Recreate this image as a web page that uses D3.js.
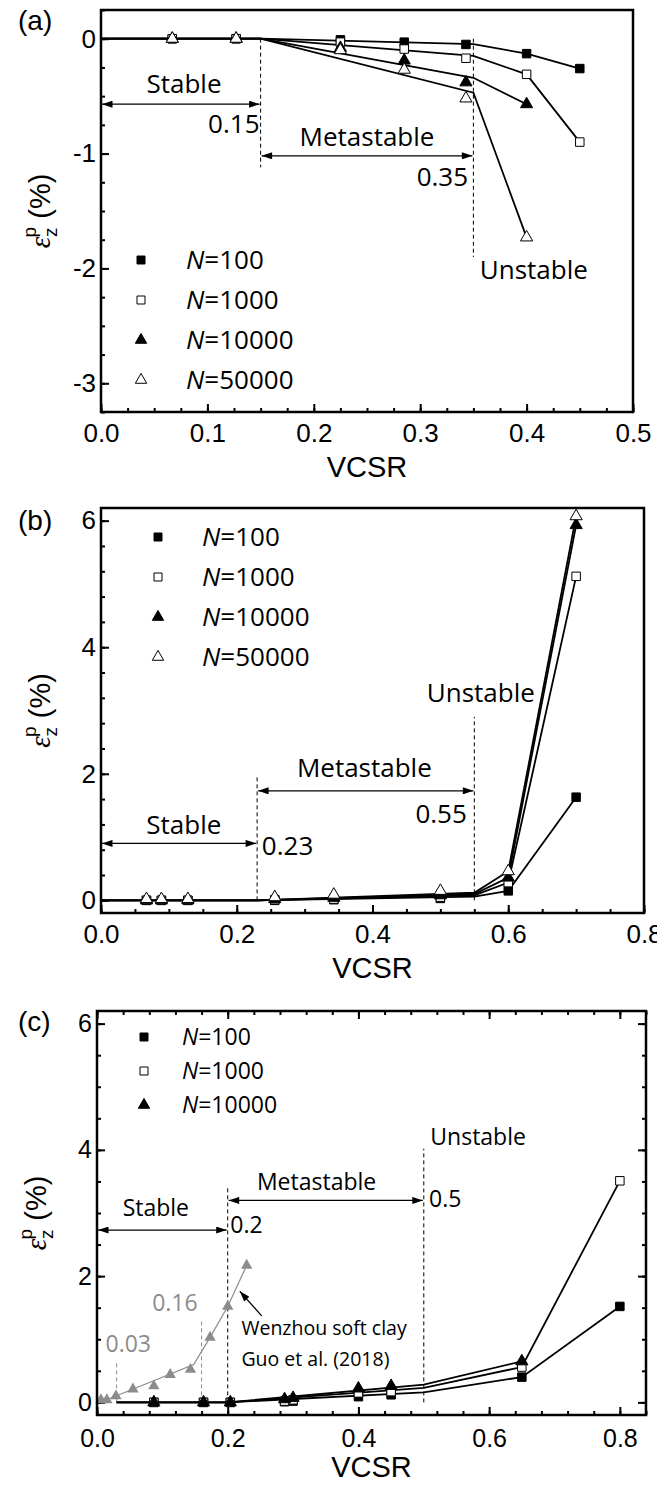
<!DOCTYPE html>
<html>
<head>
<meta charset="utf-8">
<script src="https://cdn.jsdelivr.net/npm/d3@7"></script>
<style>
body { margin: 0; background: #fff; }
svg { display: block; }
</style>
</head>
<body>
<div id="chart"></div>
<script>
// ---- panel (a) ----
var aXTicks = [0, 0.1, 0.2, 0.3, 0.4, 0.5];
var aYTicks = [-3, -2, -1, 0];
var aMarkX = [0.067, 0.127, 0.225, 0.285, 0.343, 0.4, 0.45];
var aN100 = [0, 0, -0.01, -0.03, -0.05, -0.13, -0.26];
var aN1000 = [0, 0, -0.03, -0.09, -0.17, -0.31, -0.90];
var aN10000 = [0, 0, -0.08, -0.19, -0.38, -0.57];
var aN50000 = [0, 0, -0.10, -0.27, -0.52, -1.73];
var aLineX = [0, 0.15, 0.35, 0.4, 0.45];
var aLine100 = [0, 0, -0.047, -0.13, -0.26];
var aLine1000 = [0, 0, -0.15, -0.31, -0.90];
var aLine10000 = [0, 0, -0.34, -0.57];
var aLine50000 = [0, 0, -0.47, -1.73];

// ---- panel (b) ----
var bXTicks = [0, 0.2, 0.4, 0.6, 0.8];
var bYTicks = [0, 2, 4, 6];
var bMarkX = [0.067, 0.089, 0.128, 0.256, 0.343, 0.5, 0.6, 0.7];
var bN100 = [0, 0, 0, 0, 0.01, 0.03, 0.15, 1.63];
var bN1000 = [0, 0, 0, 0.01, 0.02, 0.05, 0.28, 5.12];
var bN10000 = [0, 0, 0, 0.02, 0.04, 0.08, 0.36, 5.93];
var bN50000 = [0.02, 0.02, 0.02, 0.05, 0.09, 0.15, 0.46, 6.07];
var bLineX = [0, 0.23, 0.55, 0.6, 0.7];
var bLine100 = [0, 0, 0.06, 0.15, 1.63];
var bLine1000 = [0, 0, 0.08, 0.28, 5.12];
var bLine10000 = [0, 0, 0.10, 0.36, 5.93];
var bLine50000 = [0, 0, 0.12, 0.46, 6.07];

// ---- panel (c) ----
var cXTicks = [0, 0.2, 0.4, 0.6, 0.8];
var cYTicks = [0, 2, 4, 6];
var cMarkX = [0.087, 0.163, 0.204, 0.287, 0.3, 0.4, 0.45, 0.65, 0.8];
var cN100 = [0, 0, 0, 0.01, 0.02, 0.09, 0.12, 0.40, 1.52];
var cN1000 = [0, 0, 0, 0.02, 0.04, 0.15, 0.17, 0.56, 3.51];
var cN10000 = [0, 0, 0, 0.05, 0.07, 0.22, 0.26, 0.65];
var cLineX = [0.03, 0.2, 0.5, 0.65, 0.8];
var cLine100 = [0, 0, 0.16, 0.40, 1.52];
var cLine1000 = [0, 0, 0.23, 0.56, 3.51];
var cLine10000 = [0, 0, 0.28, 0.65];
// Wenzhou soft clay, Guo et al. (2018)
var clayX = [0.006, 0.015, 0.029, 0.055, 0.087, 0.112, 0.143, 0.173, 0.2, 0.229];
var clayY = [0.04, 0.04, 0.10, 0.21, 0.26, 0.44, 0.52, 1.03, 1.52, 2.17];
var clayLineX = [0.006, 0.015, 0.029, 0.148, 0.173, 0.2, 0.229];
var clayLineY = [0.04, 0.04, 0.10, 0.60, 1.03, 1.52, 2.17];

var legendN = ["100", "1000", "10000", "50000"];

var tickFont = "'Liberation Sans', Arial, sans-serif";
var noteFont = "'Open Sans', sans-serif";
var grey = "#8c8c8c";

var svg = d3.select("#chart").append("svg")
    .attr("width", 657)
    .attr("height", 1485);

var defs = svg.append("defs");
defs.append("marker")
    .attr("id", "arrow0")
    .attr("viewBox", "0 0 12 8")
    .attr("markerWidth", 12)
    .attr("markerHeight", 7)
    .attr("markerUnits", "userSpaceOnUse")
    .attr("refX", 12)
    .attr("refY", 4)
    .attr("orient", "auto-start-reverse")
    .append("path")
    .attr("d", "M0,0L12,4L0,8Z")
    .attr("fill", "#000");

var shapes = [
    { type: d3.symbolSquare, filled: true },
    { type: d3.symbolSquare, filled: false },
    { type: d3.symbolTriangle, filled: true },
    { type: d3.symbolTriangle, filled: false }
];

function symbolPath(s) {
    return d3.symbol().type(s.type).size(s.type === d3.symbolSquare ? 72 : 64)();
}

function drawPanel(p) {
    var x = d3.scaleLinear().domain(p.xDomain).range([p.left, p.right]);
    var y = d3.scaleLinear().domain(p.yDomain).range([p.bottom, p.top]);
    var g = svg.append("g");

    var xMinor = d3.range(0, p.xDomain[1] + 1e-9, p.xMinor);
    var yMinor = d3.range(Math.ceil(p.yDomain[0] / p.yMinor) * p.yMinor, p.yDomain[1] + 1e-9, p.yMinor);

    function styleAxis(sel) {
        sel.select(".domain").remove();
        sel.selectAll(".tick line").attr("stroke", "#000").attr("stroke-width", 2);
        sel.attr("font-family", tickFont).attr("font-size", p.fs);
        sel.selectAll(".tick text").attr("fill", "#000");
    }

    // minor ticks
    g.append("g").attr("transform", "translate(0," + p.bottom + ")")
        .call(d3.axisBottom(x).tickValues(xMinor).tickSize(-4).tickFormat(""))
        .call(styleAxis);
    g.append("g").attr("transform", "translate(" + p.left + ",0)")
        .call(d3.axisLeft(y).tickValues(yMinor).tickSize(-4).tickFormat(""))
        .call(styleAxis);

    // major ticks
    g.append("g").attr("transform", "translate(0," + p.bottom + ")")
        .call(d3.axisBottom(x).tickValues(p.xTicks).tickSize(-8).tickPadding(p.xPad)
            .tickFormat(function(d) { return d.toFixed(1); }))
        .call(styleAxis);
    g.append("g").attr("transform", "translate(" + p.left + ",0)")
        .call(d3.axisLeft(y).tickValues(p.yTicks).tickSize(-8).tickPadding(5)
            .tickFormat(function(d) { return String(d); }))
        .call(styleAxis);

    if (p.mirror) {
        g.append("g").attr("transform", "translate(0," + p.top + ")")
            .call(d3.axisTop(x).tickValues(xMinor).tickSize(-4).tickFormat(""))
            .call(styleAxis);
        g.append("g").attr("transform", "translate(0," + p.top + ")")
            .call(d3.axisTop(x).tickValues(p.xTicks).tickSize(-8).tickFormat(""))
            .call(styleAxis);
        g.append("g").attr("transform", "translate(" + p.right + ",0)")
            .call(d3.axisRight(y).tickValues(yMinor).tickSize(-4).tickFormat(""))
            .call(styleAxis);
        g.append("g").attr("transform", "translate(" + p.right + ",0)")
            .call(d3.axisRight(y).tickValues(p.yTicks).tickSize(-8).tickFormat(""))
            .call(styleAxis);
    }

    // dashed boundaries
    p.dashes.forEach(function(d) {
        g.append("line")
            .attr("x1", x(d[0])).attr("x2", x(d[0]))
            .attr("y1", y(d[1])).attr("y2", y(d[2]))
            .attr("stroke", d[3] || "#000")
            .attr("stroke-width", 1)
            .attr("stroke-dasharray", "4,3");
    });

    // double arrows
    p.arrows.forEach(function(d) {
        g.append("line")
            .attr("x1", x(d[0]) + 1).attr("x2", x(d[1]) - 1)
            .attr("y1", y(d[2])).attr("y2", y(d[2]))
            .attr("stroke", "#000")
            .attr("stroke-width", 1.3)
            .attr("marker-start", "url(#arrow0)")
            .attr("marker-end", "url(#arrow0)");
    });

    // notes
    p.notes.forEach(function(d) {
        g.append("text")
            .attr("x", x(d[0])).attr("y", y(d[1]))
            .attr("text-anchor", d[3])
            .attr("font-family", noteFont)
            .attr("font-size", d[5] || p.nfs)
            .attr("fill", d[4] || "#000")
            .text(d[2]);
    });

    if (p.extra) p.extra(g, x, y);

    var line = d3.line()
        .x(function(d) { return x(d[0]); })
        .y(function(d) { return y(d[1]); });

    p.series.forEach(function(s) {
        g.append("path")
            .datum(s.lx.map(function(v, i) { return [v, s.ly[i]]; }))
            .attr("d", line)
            .attr("fill", "none")
            .attr("stroke", "#000")
            .attr("stroke-width", 1.8);
    });

    p.series.forEach(function(s, k) {
        g.append("g").selectAll("path")
            .data(s.my.map(function(v, i) { return [p.markX[i], v]; }))
            .enter().append("path")
            .attr("transform", function(d) { return "translate(" + x(d[0]) + "," + y(d[1]) + ")"; })
            .attr("d", symbolPath(shapes[k]))
            .attr("fill", shapes[k].filled ? "#000" : "#fff")
            .attr("stroke", "#000")
            .attr("stroke-width", 1);
    });

    // legend
    var leg = g.append("g");
    p.series.forEach(function(s, k) {
        var ly = p.legY + k * p.legStep;
        leg.append("path")
            .attr("transform", "translate(" + p.legX + "," + ly + ")")
            .attr("d", d3.symbol().type(shapes[k].type).size(shapes[k].type === d3.symbolSquare ? 64 : 56)())
            .attr("fill", shapes[k].filled ? "#000" : "#fff")
            .attr("stroke", "#000")
            .attr("stroke-width", 1);
        var t = leg.append("text")
            .attr("x", p.legX + p.legGap).attr("y", ly + p.lfs * 0.36)
            .attr("font-family", noteFont)
            .attr("font-size", p.lfs);
        t.append("tspan").attr("font-style", "italic").text("N");
        t.append("tspan").text("=" + legendN[k]);
    });

    // frame
    g.append("rect")
        .attr("x", p.left).attr("y", p.top)
        .attr("width", p.right - p.left).attr("height", p.bottom - p.top)
        .attr("fill", "none").attr("stroke", "#000").attr("stroke-width", 2.5);

    // axis titles
    g.append("text")
        .attr("x", (p.left + p.right) / 2).attr("y", p.bottom + p.titleGap)
        .attr("text-anchor", "middle")
        .attr("font-family", tickFont).attr("font-size", 29)
        .text("VCSR");

    var yl = g.append("text")
        .attr("transform", "translate(" + p.yTitleX + "," + ((p.top + p.bottom) / 2) + ") rotate(-90)")
        .attr("text-anchor", "middle")
        .attr("font-family", tickFont).attr("font-size", 29);
    yl.append("tspan").attr("font-family", "'Liberation Serif', serif").attr("font-style", "italic").text("ε");
    yl.append("tspan").attr("font-size", 19).attr("dy", 7).text("z");
    yl.append("tspan").attr("font-size", 19).attr("dx", -10).attr("dy", -21).text("p");
    yl.append("tspan").attr("dy", 14).text(" (%)");

    g.append("text")
        .attr("x", 18).attr("y", p.top + p.tagDy)
        .attr("font-family", tickFont).attr("font-size", 28)
        .text(p.tag);
}

drawPanel({
    tag: "(a)", tagDy: 20,
    left: 101, right: 633, top: 10, bottom: 412,
    xDomain: [0, 0.5], yDomain: [-3.25, 0.25],
    xTicks: aXTicks, yTicks: aYTicks, xMinor: 0.025, yMinor: 0.25,
    fs: 26, xPad: 12, nfs: 26, lfs: 26, titleGap: 65, yTitleX: 50,
    legX: 141, legGap: 45, legY: 260, legStep: 40,
    markX: aMarkX,
    series: [
        { lx: aLineX, ly: aLine100, my: aN100 },
        { lx: aLineX, ly: aLine1000, my: aN1000 },
        { lx: aLineX.slice(0, 4), ly: aLine10000, my: aN10000 },
        { lx: aLineX.slice(0, 4), ly: aLine50000, my: aN50000 }
    ],
    dashes: [[0.15, 0, -1.12], [0.35, 0, -1.9]],
    arrows: [[0, 0.15, -0.57], [0.15, 0.35, -1.02]],
    notes: [
        [0.078, -0.47, "Stable", "middle"],
        [0.149, -0.82, "0.15", "end"],
        [0.25, -0.93, "Metastable", "middle"],
        [0.345, -1.28, "0.35", "end"],
        [0.356, -2.09, "Unstable", "start"]
    ]
});

drawPanel({
    tag: "(b)", tagDy: 22,
    left: 101, right: 644, top: 508, bottom: 913,
    xDomain: [0, 0.8], yDomain: [-0.2, 6.2],
    xTicks: bXTicks, yTicks: bYTicks, xMinor: 0.05, yMinor: 0.4,
    fs: 26, xPad: 12, nfs: 26, lfs: 26, titleGap: 65, yTitleX: 50,
    legX: 158, legGap: 44, legY: 537, legStep: 40,
    markX: bMarkX,
    series: [
        { lx: bLineX, ly: bLine100, my: bN100 },
        { lx: bLineX, ly: bLine1000, my: bN1000 },
        { lx: bLineX, ly: bLine10000, my: bN10000 },
        { lx: bLineX, ly: bLine50000, my: bN50000 }
    ],
    dashes: [[0.23, 0, 1.98], [0.55, 0, 2.9]],
    arrows: [[0, 0.23, 0.9], [0.23, 0.55, 1.73]],
    notes: [
        [0.122, 1.05, "Stable", "middle"],
        [0.237, 0.72, "0.23", "start"],
        [0.388, 1.95, "Metastable", "middle"],
        [0.539, 1.22, "0.55", "end"],
        [0.48, 3.13, "Unstable", "start"]
    ]
});

drawPanel({
    tag: "(c)", tagDy: 20,
    left: 97, right: 646, top: 1011, bottom: 1415,
    xDomain: [0, 0.84], yDomain: [-0.2, 6.2],
    xTicks: cXTicks, yTicks: cYTicks, xMinor: 0.04, yMinor: 0.5,
    fs: 25, xPad: 14, nfs: 23, lfs: 23, titleGap: 62, yTitleX: 46, mirror: true,
    legX: 144, legGap: 38, legY: 1037, legStep: 34,
    markX: cMarkX,
    series: [
        { lx: cLineX, ly: cLine100, my: cN100 },
        { lx: cLineX, ly: cLine1000, my: cN1000 },
        { lx: cLineX.slice(0, 4), ly: cLine10000, my: cN10000 }
    ],
    dashes: [[0.2, 0, 3.41], [0.5, 0, 4.02], [0.03, 0, 0.65, grey], [0.16, 0, 1.3, grey]],
    arrows: [[0, 0.2, 2.73], [0.2, 0.5, 3.2]],
    notes: [
        [0.09, 2.96, "Stable", "middle"],
        [0.204, 2.68, "0.2", "start"],
        [0.336, 3.37, "Metastable", "middle"],
        [0.508, 3.1, "0.5", "start"],
        [0.51, 4.07, "Unstable", "start"],
        [0.013, 0.8, "0.03", "start", grey],
        [0.154, 1.44, "0.16", "end", grey],
        [0.221, 1.07, "Wenzhou soft clay", "start", "#000", 19.5],
        [0.221, 0.58, "Guo et al. (2018)", "start", "#000", 19.5]
    ],
    extra: function(g, x, y) {
        var line = d3.line()
            .x(function(d) { return x(d[0]); })
            .y(function(d) { return y(d[1]); });
        g.append("path")
            .datum(clayLineX.map(function(v, i) { return [v, clayLineY[i]]; }))
            .attr("d", line)
            .attr("fill", "none")
            .attr("stroke", grey)
            .attr("stroke-width", 1.2);
        g.append("g").selectAll("path")
            .data(clayX.map(function(v, i) { return [v, clayY[i]]; }))
            .enter().append("path")
            .attr("transform", function(d) { return "translate(" + x(d[0]) + "," + y(d[1]) + ")"; })
            .attr("d", d3.symbol().type(d3.symbolTriangle).size(56)())
            .attr("fill", grey);
        g.append("line")
            .attr("x1", x(0.252)).attr("y1", y(1.37))
            .attr("x2", x(0.2185)).attr("y2", y(1.76))
            .attr("stroke", "#000").attr("stroke-width", 1.2)
            .attr("marker-end", "url(#arrow0)");
    }
});
</script>
</body>
</html>
